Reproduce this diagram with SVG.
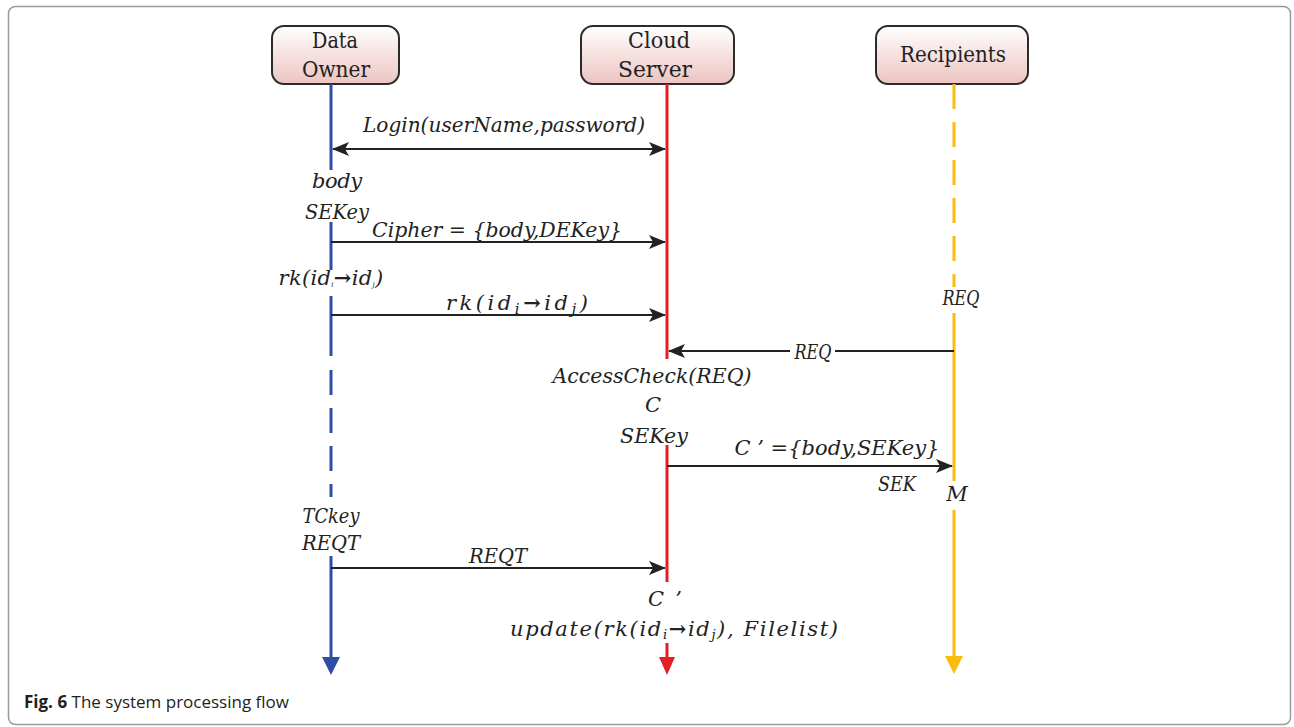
<svg xmlns="http://www.w3.org/2000/svg" width="1294" height="727" viewBox="0 0 1294 727">
<style>
.box{stroke:#2b2b2b;stroke-width:2;fill:url(#g)}
.bt{font-size:22px;fill:#222;text-anchor:middle}
.lbl{font-style:italic;font-size:21px;fill:#222;text-anchor:middle}
.msg{stroke:#222;stroke-width:2;fill:none}
.blue{stroke:#2e4ea3;stroke-width:3;fill:none}
.red{stroke:#e31e24;stroke-width:3;fill:none}
.yel{stroke:#fbbc10;stroke-width:3;fill:none}
.cap{font-size:17px;fill:#231f20}
</style>
<defs>
<linearGradient id="g" x1="0" y1="0" x2="0" y2="1">
<stop offset="0" stop-color="#ffffff"/>
<stop offset="1" stop-color="#ecc4c0"/>
</linearGradient>
<marker id="ah" markerUnits="userSpaceOnUse" markerWidth="18" markerHeight="14" refX="16" refY="7" orient="auto-start-reverse" viewBox="0 0 18 14">
<path d="M0,0 L17,7 L0,14 L4,7 Z" fill="#222"/>
</marker>
</defs>
<rect x="8.5" y="6.5" width="1282" height="718" rx="7" fill="#fff" stroke="#999" stroke-width="1.5"/>

<g font-family="DejaVu Serif, Liberation Serif, serif">
<g id="data-owner">
<rect class="box" x="272" y="26" width="127" height="58" rx="12"/>
<text class="bt" x="335" y="48" textLength="46" lengthAdjust="spacingAndGlyphs">Data</text>
<text class="bt" x="336" y="77" textLength="68" lengthAdjust="spacingAndGlyphs">Owner</text>
</g>
<g id="cloud-server">
<rect class="box" x="581" y="26" width="153" height="58" rx="12"/>
<text class="bt" x="659" y="48" textLength="62" lengthAdjust="spacingAndGlyphs">Cloud</text>
<text class="bt" x="655" y="77" textLength="74" lengthAdjust="spacingAndGlyphs">Server</text>
</g>
<g id="recipients">
<rect class="box" x="876" y="26" width="152" height="58" rx="12"/>
<text class="bt" x="953" y="62" textLength="106" lengthAdjust="spacingAndGlyphs">Recipients</text>
</g>
</g>

<g id="lifelines">
<path class="blue" d="M331,84 V170 M331,222 V270 M331,296 V356"/>
<path class="blue" d="M331,370 V497" stroke-dasharray="25 13"/>
<path class="blue" d="M331,556 V660"/>
<polygon points="322,657 340,657 331,675" fill="#2e4ea3"/>
<path class="red" d="M667,84 V359 M667,445 V582 M667,643 V660"/>
<polygon points="659,657 675,657 667,675" fill="#e31e24"/>
<path class="yel" d="M954,84 V287" stroke-dasharray="25 13"/>
<path class="yel" d="M954,313 V481 M954,510 V660"/>
<polygon points="945,656 963,656 954,674" fill="#fbbc10"/>
</g>

<g id="connectors">
<line class="msg" x1="333" y1="149" x2="665" y2="149" marker-start="url(#ah)" marker-end="url(#ah)"/>
<line class="msg" x1="331" y1="242" x2="665" y2="242" marker-end="url(#ah)"/>
<line class="msg" x1="331" y1="315" x2="665" y2="315" marker-end="url(#ah)"/>
<line class="msg" x1="954" y1="351" x2="669" y2="351" marker-end="url(#ah)"/>
<line class="msg" x1="667" y1="466" x2="952" y2="466" marker-end="url(#ah)"/>
<line class="msg" x1="331" y1="568" x2="665" y2="568" marker-end="url(#ah)"/>
</g>

<g id="labels" font-family="DejaVu Serif, Liberation Serif, serif">
<text class="lbl" x="504" y="132" font-size="22" textLength="282" lengthAdjust="spacingAndGlyphs">Login(userName,password)</text>
<text class="lbl" x="337" y="188" textLength="50" lengthAdjust="spacing">body</text>
<text class="lbl" x="337" y="219" textLength="64" lengthAdjust="spacingAndGlyphs">SEKey</text>
<text class="lbl" x="497" y="237" font-size="22" textLength="250" lengthAdjust="spacingAndGlyphs">Cipher = {body,DEKey}</text>
<text class="lbl" x="331" y="285" font-size="11" letter-spacing="0.3">rk(id<tspan font-size="7" dy="2">i</tspan><tspan dy="-2" font-style="normal" font-weight="bold">→</tspan>id<tspan font-size="7" dy="2">j</tspan><tspan dy="-2">)</tspan></text>
<text class="lbl" x="517" y="310" font-size="25" textLength="142" lengthAdjust="spacing">rk(id<tspan font-size="15" dy="4">i</tspan><tspan dy="-4" font-style="normal" font-weight="bold">→</tspan>id<tspan font-size="15" dy="4">j</tspan><tspan dy="-4">)</tspan></text>
<text class="lbl" x="961" y="305" font-size="18" textLength="37" lengthAdjust="spacingAndGlyphs">REQ</text>
<rect x="790" y="340" width="45" height="22" fill="#fff"/>
<text class="lbl" x="813" y="359" font-size="20" textLength="37" lengthAdjust="spacingAndGlyphs">REQ</text>
<text class="lbl" x="652" y="383" font-size="22" textLength="199" lengthAdjust="spacingAndGlyphs">AccessCheck(REQ)</text>
<text class="lbl" x="653" y="412" font-size="22">C</text>
<text class="lbl" x="654" y="443" font-size="22" textLength="68" lengthAdjust="spacingAndGlyphs">SEKey</text>
<text class="lbl" x="837" y="455" font-size="22" textLength="205" lengthAdjust="spacingAndGlyphs">C ’ ={body,SEKey}</text>
<text class="lbl" x="897" y="491" font-size="20" textLength="38" lengthAdjust="spacingAndGlyphs">SEK</text>
<text class="lbl" x="957" y="501" font-size="16">M</text>
<text class="lbl" x="331" y="523" font-size="20" textLength="57" lengthAdjust="spacingAndGlyphs">TCkey</text>
<text class="lbl" x="331" y="550" font-size="20" textLength="58" lengthAdjust="spacingAndGlyphs">REQT</text>
<text class="lbl" x="498" y="563" font-size="20" textLength="58" lengthAdjust="spacingAndGlyphs">REQT</text>
<text class="lbl" x="665" y="606" font-size="22" textLength="34" lengthAdjust="spacing">C ’</text>
<text class="lbl" x="674" y="636" font-size="20" textLength="328" lengthAdjust="spacing">update(rk(id<tspan font-size="13" dy="3">i</tspan><tspan dy="-3" font-style="normal" font-weight="bold">→</tspan>id<tspan font-size="13" dy="3">j</tspan><tspan dy="-3">), Filelist)</tspan></text>
</g>

<text class="cap" x="24" y="708" font-family="Open Sans, Noto Sans, sans-serif"><tspan font-weight="bold">Fig. 6</tspan> The system processing flow</text>
</svg>
